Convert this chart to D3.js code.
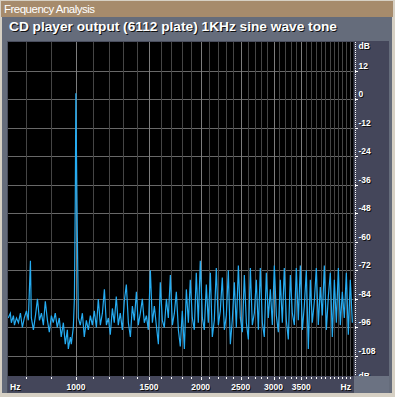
<!DOCTYPE html>
<html>
<head>
<meta charset="utf-8">
<script src="https://cdn.jsdelivr.net/npm/d3@7"></script>
<style>
    body { margin: 0; background: #d6d0c4; }
    svg { display: block; font-family: "Liberation Sans", Arial, sans-serif; }
</style>
</head>
<body>
<svg id="chart"></svg>
<script>
// spectrum (Hz / dB)
const freqHz = [686, 694, 698, 706, 710, 718, 726, 734, 742, 750, 759, 767, 776, 780, 789, 798, 807, 816, 825, 834,
    843, 853, 862, 872, 881, 891, 901, 911, 921, 932, 942, 953, 958, 969, 974, 985, 991, 996, 999, 1004,
    1007, 1013, 1024, 1036, 1047, 1059, 1071, 1083, 1095, 1107, 1120, 1132, 1145, 1158, 1171, 1184, 1197, 1210, 1224, 1237,
    1251, 1265, 1279, 1294, 1308, 1323, 1338, 1353, 1368, 1383, 1399, 1414, 1430, 1446, 1462, 1479, 1495, 1512, 1529, 1546,
    1563, 1581, 1598, 1616, 1634, 1653, 1671, 1690, 1709, 1728, 1747, 1767, 1786, 1806, 1827, 1847, 1868, 1888, 1909, 1931,
    1952, 1974, 1996, 2019, 2041, 2064, 2087, 2111, 2134, 2158, 2182, 2207, 2231, 2256, 2282, 2307, 2333, 2359, 2385, 2412,
    2439, 2467, 2494, 2522, 2550, 2579, 2608, 2637, 2666, 2696, 2726, 2757, 2787, 2819, 2850, 2882, 2914, 2947, 2980, 3013,
    3047, 3081, 3115, 3150, 3185, 3221, 3257, 3294, 3330, 3368, 3405, 3443, 3482, 3521, 3560, 3600, 3640, 3681, 3722, 3764,
    3806, 3848, 3891, 3935, 3979, 4024, 4069, 4114, 4160, 4207, 4254, 4302, 4349, 4398, 4447, 4497, 4547, 4598, 4650];
const levelDb = [-92, -90, -94, -91, -95, -92, -94, -90, -96, -92, -89, -93, -68, -92, -97, -91, -84, -93, -90, -95,
    -85, -93, -98, -91, -94, -90, -96, -92, -100, -94, -103, -97, -105, -100, -103, -96, -84, -42, 2.5, -34,
    -55, -92, -95, -90, -100, -93, -97, -91, -95, -89, -96, -84, -95, -90, -80, -95, -92, -99, -88, -94,
    -83, -95, -90, -97, -85, -78, -94, -100, -87, -93, -81, -95, -90, -84, -94, -91, -97, -72, -94, -87,
    -95, -103, -77, -93, -96, -84, -92, -74, -95, -90, -81, -97, -104, -89, -105, -80, -94, -76, -92, -97,
    -73, -94, -68, -92, -97, -78, -94, -73, -100, -93, -71, -95, -89, -75, -97, -91, -72, -103, -93, -77,
    -96, -70, -92, -98, -74, -94, -101, -71, -95, -90, -76, -97, -71, -94, -100, -73, -92, -80, -95, -70,
    -91, -98, -76, -94, -71, -93, -101, -74, -90, -95, -71, -93, -70, -97, -87, -72, -105, -76, -94, -85,
    -71, -95, -79, -91, -70, -97, -83, -73, -100, -76, -94, -71, -95, -81, -92, -73, -99, -76, -94];

const gridFreqs = [757, 870, 1000, 1100, 1200, 1300, 1400, 1500, 1600, 1700, 1800, 1900, 2000, 2100, 2200, 2300, 2400,
    2500, 2600, 2700, 2800, 2900, 3000, 3100, 3200, 3300, 3400, 3500, 3600, 3700, 3800, 3900, 4000, 4100, 4200, 4300,
    4400, 4500, 4600];
const labelFreqs = [1000, 1500, 2000, 2500, 3000, 3500];
const dbTicks = [12, 0, -12, -24, -36, -48, -60, -72, -84, -96, -108];

const windowTitle = "Frequency Analysis";
const chartTitle = "CD player output (6112 plate) 1KHz sine wave tone";

class Spectrum {
    margin = {
        top: 42, right: 41.5, bottom: 21, left: 8
    }

    constructor(svg, width = 395, height = 397) {
        this.svg = svg;
        this.fullWidth = width;
        this.fullHeight = height;
        this.width = width - this.margin.left - this.margin.right;
        this.height = height - this.margin.top - this.margin.bottom;
    }

    initialize() {
        this.svg = d3.select(this.svg)
            .attr("width", this.fullWidth)
            .attr("height", this.fullHeight);

        // window chrome
        this.svg.append("rect").attr("x", 1).attr("y", 1).attr("width", 392).attr("height", 16).attr("fill", "#a68b6c");
        this.svg.append("rect").attr("x", 2).attr("y", 17).attr("width", 390).attr("height", 376).attr("fill", "#656c7b");
        this.svg.append("rect").attr("x", 7).attr("y", 41).attr("width", 382).attr("height", 352).attr("fill", "#4a4e5e");
        this.svg.append("rect").attr("x", 354).attr("y", 41).attr("width", 35).attr("height", 335).attr("fill", "#44465a");
        this.svg.append("rect").attr("x", 8).attr("y", 376).attr("width", 346).attr("height", 16).attr("fill", "#44465a");
        this.svg.append("rect").attr("x", 354).attr("y", 376).attr("width", 35).attr("height", 17).attr("fill", "#6b7282");

        this.svg.append("text")
            .attr("x", 4).attr("y", 13)
            .attr("font-size", 11.5)
            .attr("textLength", 91)
            .attr("fill", "white")
            .text(windowTitle);

        this.shadowText(this.svg, 9, 31, chartTitle)
            .attr("font-size", 13.5)
            .attr("font-weight", "bold")
            .attr("textLength", 328)
            .attr("lengthAdjust", "spacingAndGlyphs");

        this.container = this.svg.append("g")
            .attr("transform", `translate(${this.margin.left}, ${this.margin.top})`);

        this.container.append("rect")
            .attr("width", this.width)
            .attr("height", this.height)
            .attr("fill", "black");

        this.container.append("clipPath").attr("id", "plot-clip")
            .append("rect").attr("width", this.width).attr("height", this.height);

        this.grid = this.container.append("g");
        this.line = this.container.append("path").attr("clip-path", "url(#plot-clip)");
        this.xAxis = this.svg.append("g");
        this.yAxis = this.svg.append("g");

        this.xScale = d3.scaleLog().domain([685, 4680]).range([0, this.width]);
        this.yScale = d3.scaleLinear().domain([24, -116.4]).range([0, this.height]);
    }

    shadowText(g, x, y, str) {
        const t = g.append("g");
        t.append("text").attr("x", x + 1).attr("y", y + 1).attr("fill", "#111").text(str);
        t.append("text").attr("x", x).attr("y", y).attr("fill", "white").text(str);
        return t.selectAll("text");
    }

    update() {
        const px = v => Math.round(v) + 0.5;

        this.grid.selectAll(".hgrid")
            .data(dbTicks)
            .join("line")
            .attr("class", "hgrid")
            .attr("x1", 0).attr("x2", this.width)
            .attr("y1", d => px(this.yScale(d))).attr("y2", d => px(this.yScale(d)))
            .attr("stroke", "#686868");

        this.grid.selectAll(".vgrid")
            .data(gridFreqs)
            .join("line")
            .attr("class", "vgrid")
            .attr("x1", d => px(this.xScale(d))).attr("x2", d => px(this.xScale(d)))
            .attr("y1", 0).attr("y2", this.height)
            .attr("stroke", d => labelFreqs.includes(d) ? "#7c7c7c" : "#454545");

        this.line
            .datum(d3.range(freqHz.length))
            .attr("fill", "none")
            .attr("stroke", "#25acf2")
            .attr("stroke-width", 1.2)
            .attr("d", d3.line()
                .x(i => this.xScale(freqHz[i]))
                .y(i => this.yScale(levelDb[i])));

        // bottom frequency axis
        const xa = this.xAxis.attr("transform", `translate(${this.margin.left}, ${this.margin.top + this.height})`);
        xa.selectAll("rect")
            .data(gridFreqs)
            .join("rect")
            .attr("x", d => Math.round(this.xScale(d)))
            .attr("y", 1)
            .attr("width", 1)
            .attr("height", d => labelFreqs.includes(d) ? 3 : 2)
            .attr("fill", "white");
        labelFreqs.forEach(f => {
            this.shadowText(xa, this.xScale(f), 14, f)
                .attr("font-size", 8.5).attr("font-weight", "bold").attr("text-anchor", "middle");
        });
        this.shadowText(xa, 2, 14, "Hz").attr("font-size", 8.5).attr("font-weight", "bold");
        this.shadowText(xa, 343, 14, "Hz").attr("font-size", 8.5).attr("font-weight", "bold").attr("text-anchor", "end");

        // right dB axis
        const ya = this.yAxis.attr("transform", `translate(${this.margin.left + this.width}, ${this.margin.top})`);
        ya.selectAll(".dot")
            .data(d3.range(0, this.height, 2))
            .join("rect")
            .attr("class", "dot")
            .attr("x", 1.5).attr("y", d => d)
            .attr("width", 1).attr("height", 1)
            .attr("fill", "white");
        ya.selectAll(".tick")
            .data(dbTicks)
            .join("rect")
            .attr("class", "tick")
            .attr("x", 1.5).attr("y", d => Math.round(this.yScale(d)))
            .attr("width", 3).attr("height", 1)
            .attr("fill", "white");
        dbTicks.forEach(d => {
            this.shadowText(ya, 5, this.yScale(d) - 2, d).attr("font-size", 8.5).attr("font-weight", "bold");
        });
        this.shadowText(ya, 5, 7, "dB").attr("font-size", 8.5).attr("font-weight", "bold");

        ya.append("clipPath").attr("id", "db-clip")
            .append("rect").attr("x", 0).attr("y", this.height - 6).attr("width", 35).attr("height", 6);
        this.shadowText(ya.append("g").attr("clip-path", "url(#db-clip)"), 5, this.height + 2.5, "dB")
            .attr("font-size", 8.5).attr("font-weight", "bold");
    }
}

const chart = new Spectrum(document.getElementById("chart"));
chart.initialize();
chart.update();
</script>
</body>
</html>
